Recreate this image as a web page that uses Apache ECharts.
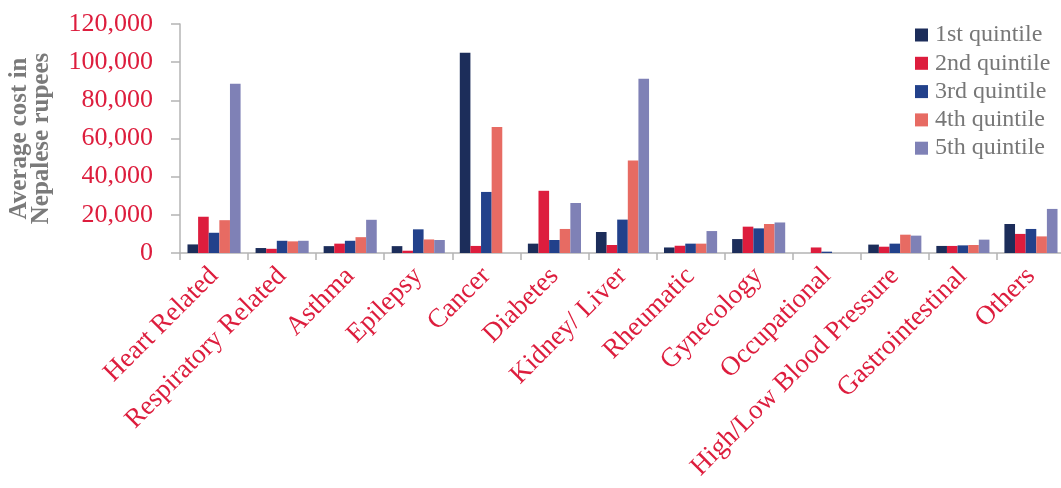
<!DOCTYPE html>
<html>
<head>
<meta charset="utf-8">
<title>Average cost by disease and wealth quintile</title>
<script src="https://cdn.jsdelivr.net/npm/echarts@6/dist/echarts.min.js"></script>
<style>
  html, body { margin: 0; padding: 0; background: #ffffff; }
  #chart { width: 1061px; height: 488px; }
</style>
</head>
<body>
<div id="chart"></div>
<script>
// Disease categories along the x axis
const categories = [
  'Heart Related', 'Respiratory Related', 'Asthma', 'Epilepsy', 'Cancer',
  'Diabetes', 'Kidney/ Liver', 'Rheumatic', 'Gynecology', 'Occupational',
  'High/Low Blood Pressure', 'Gastrointestinal', 'Others'
];

// Average cost (Nepalese rupees) per wealth quintile
const quintile1 = [4500, 2600, 3600, 3600, 105000, 4900, 11000, 2900, 7300, 0, 4400, 3700, 15200];
const quintile2 = [19000, 2200, 4900, 1200, 3700, 32600, 4200, 3800, 13800, 2900, 3300, 3700, 10000];
const quintile3 = [10600, 6400, 6400, 12400, 32000, 6800, 17500, 4900, 12900, 700, 4900, 4000, 12600];
const quintile4 = [17200, 6100, 8300, 7100, 66000, 12600, 48500, 4900, 15200, 0, 9600, 4200, 8700];
const quintile5 = [88700, 6400, 17400, 6800, 0, 26200, 91300, 11500, 16000, 0, 9100, 7000, 23100];

const seriesNames = ['1st quintile', '2nd quintile', '3rd quintile', '4th quintile', '5th quintile'];
const seriesValues = [quintile1, quintile2, quintile3, quintile4, quintile5];
const seriesColors = ['#1c2d5a', '#dd1d3d', '#22418b', '#e76b63', '#7f81b6'];

const FONT = '"Liberation Serif", "DejaVu Serif", serif';
const RED = '#dd1d3d';
const AXIS_GREY = '#b4b4b4';

const chart = echarts.init(document.getElementById('chart'), null, { renderer: 'canvas' });

chart.setOption({
  animation: false,
  backgroundColor: '#ffffff',
  textStyle: { fontFamily: FONT },
  // plot area runs slightly past the right edge of the canvas
  grid: { left: 180, top: 24, width: 885, height: 229, outerBoundsMode: 'none', containLabel: false },
  legend: {
    orient: 'vertical',
    left: 915,
    top: 23,
    padding: 0,
    itemWidth: 13,
    itemHeight: 13,
    itemGap: 4.3,
    icon: 'rect',
    textStyle: {
      fontFamily: FONT,
      fontSize: 24,
      color: '#777777',
      padding: [0, 0, 0, 2]
    },
    data: seriesNames
  },
  xAxis: {
    type: 'category',
    data: categories,
    boundaryGap: true,
    axisLine: { show: true, lineStyle: { color: AXIS_GREY, width: 1.5 } },
    axisTick: { show: true, length: 7, lineStyle: { color: AXIS_GREY, width: 1.5 } },
    axisLabel: {
      rotate: 45,
      interval: 0,
      margin: 19,
      color: RED,
      fontFamily: FONT,
      fontSize: 27
    }
  },
  yAxis: {
    type: 'value',
    min: 0,
    max: 120000,
    interval: 20000,
    name: 'Average cost in\nNepalese rupees',
    nameLocation: 'middle',
    nameRotate: 90,
    nameGap: 127,
    nameTextStyle: {
      fontFamily: FONT,
      fontSize: 25,
      fontWeight: 'bold',
      color: '#7a7a7a',
      lineHeight: 22
    },
    splitLine: { show: false },
    axisLine: { show: true, lineStyle: { color: AXIS_GREY, width: 1.5 } },
    axisTick: { show: true, length: 9, lineStyle: { color: AXIS_GREY, width: 1.5 } },
    axisLabel: {
      margin: 27,
      color: RED,
      fontFamily: FONT,
      fontSize: 26,
      formatter: v => v.toLocaleString('en-US')
    }
  },
  series: seriesNames.map((name, i) => ({
    name: name,
    type: 'bar',
    data: seriesValues[i],
    barGap: '0%',
    barCategoryGap: '22%',
    itemStyle: { color: seriesColors[i] }
  }))
});
</script>
</body>
</html>
